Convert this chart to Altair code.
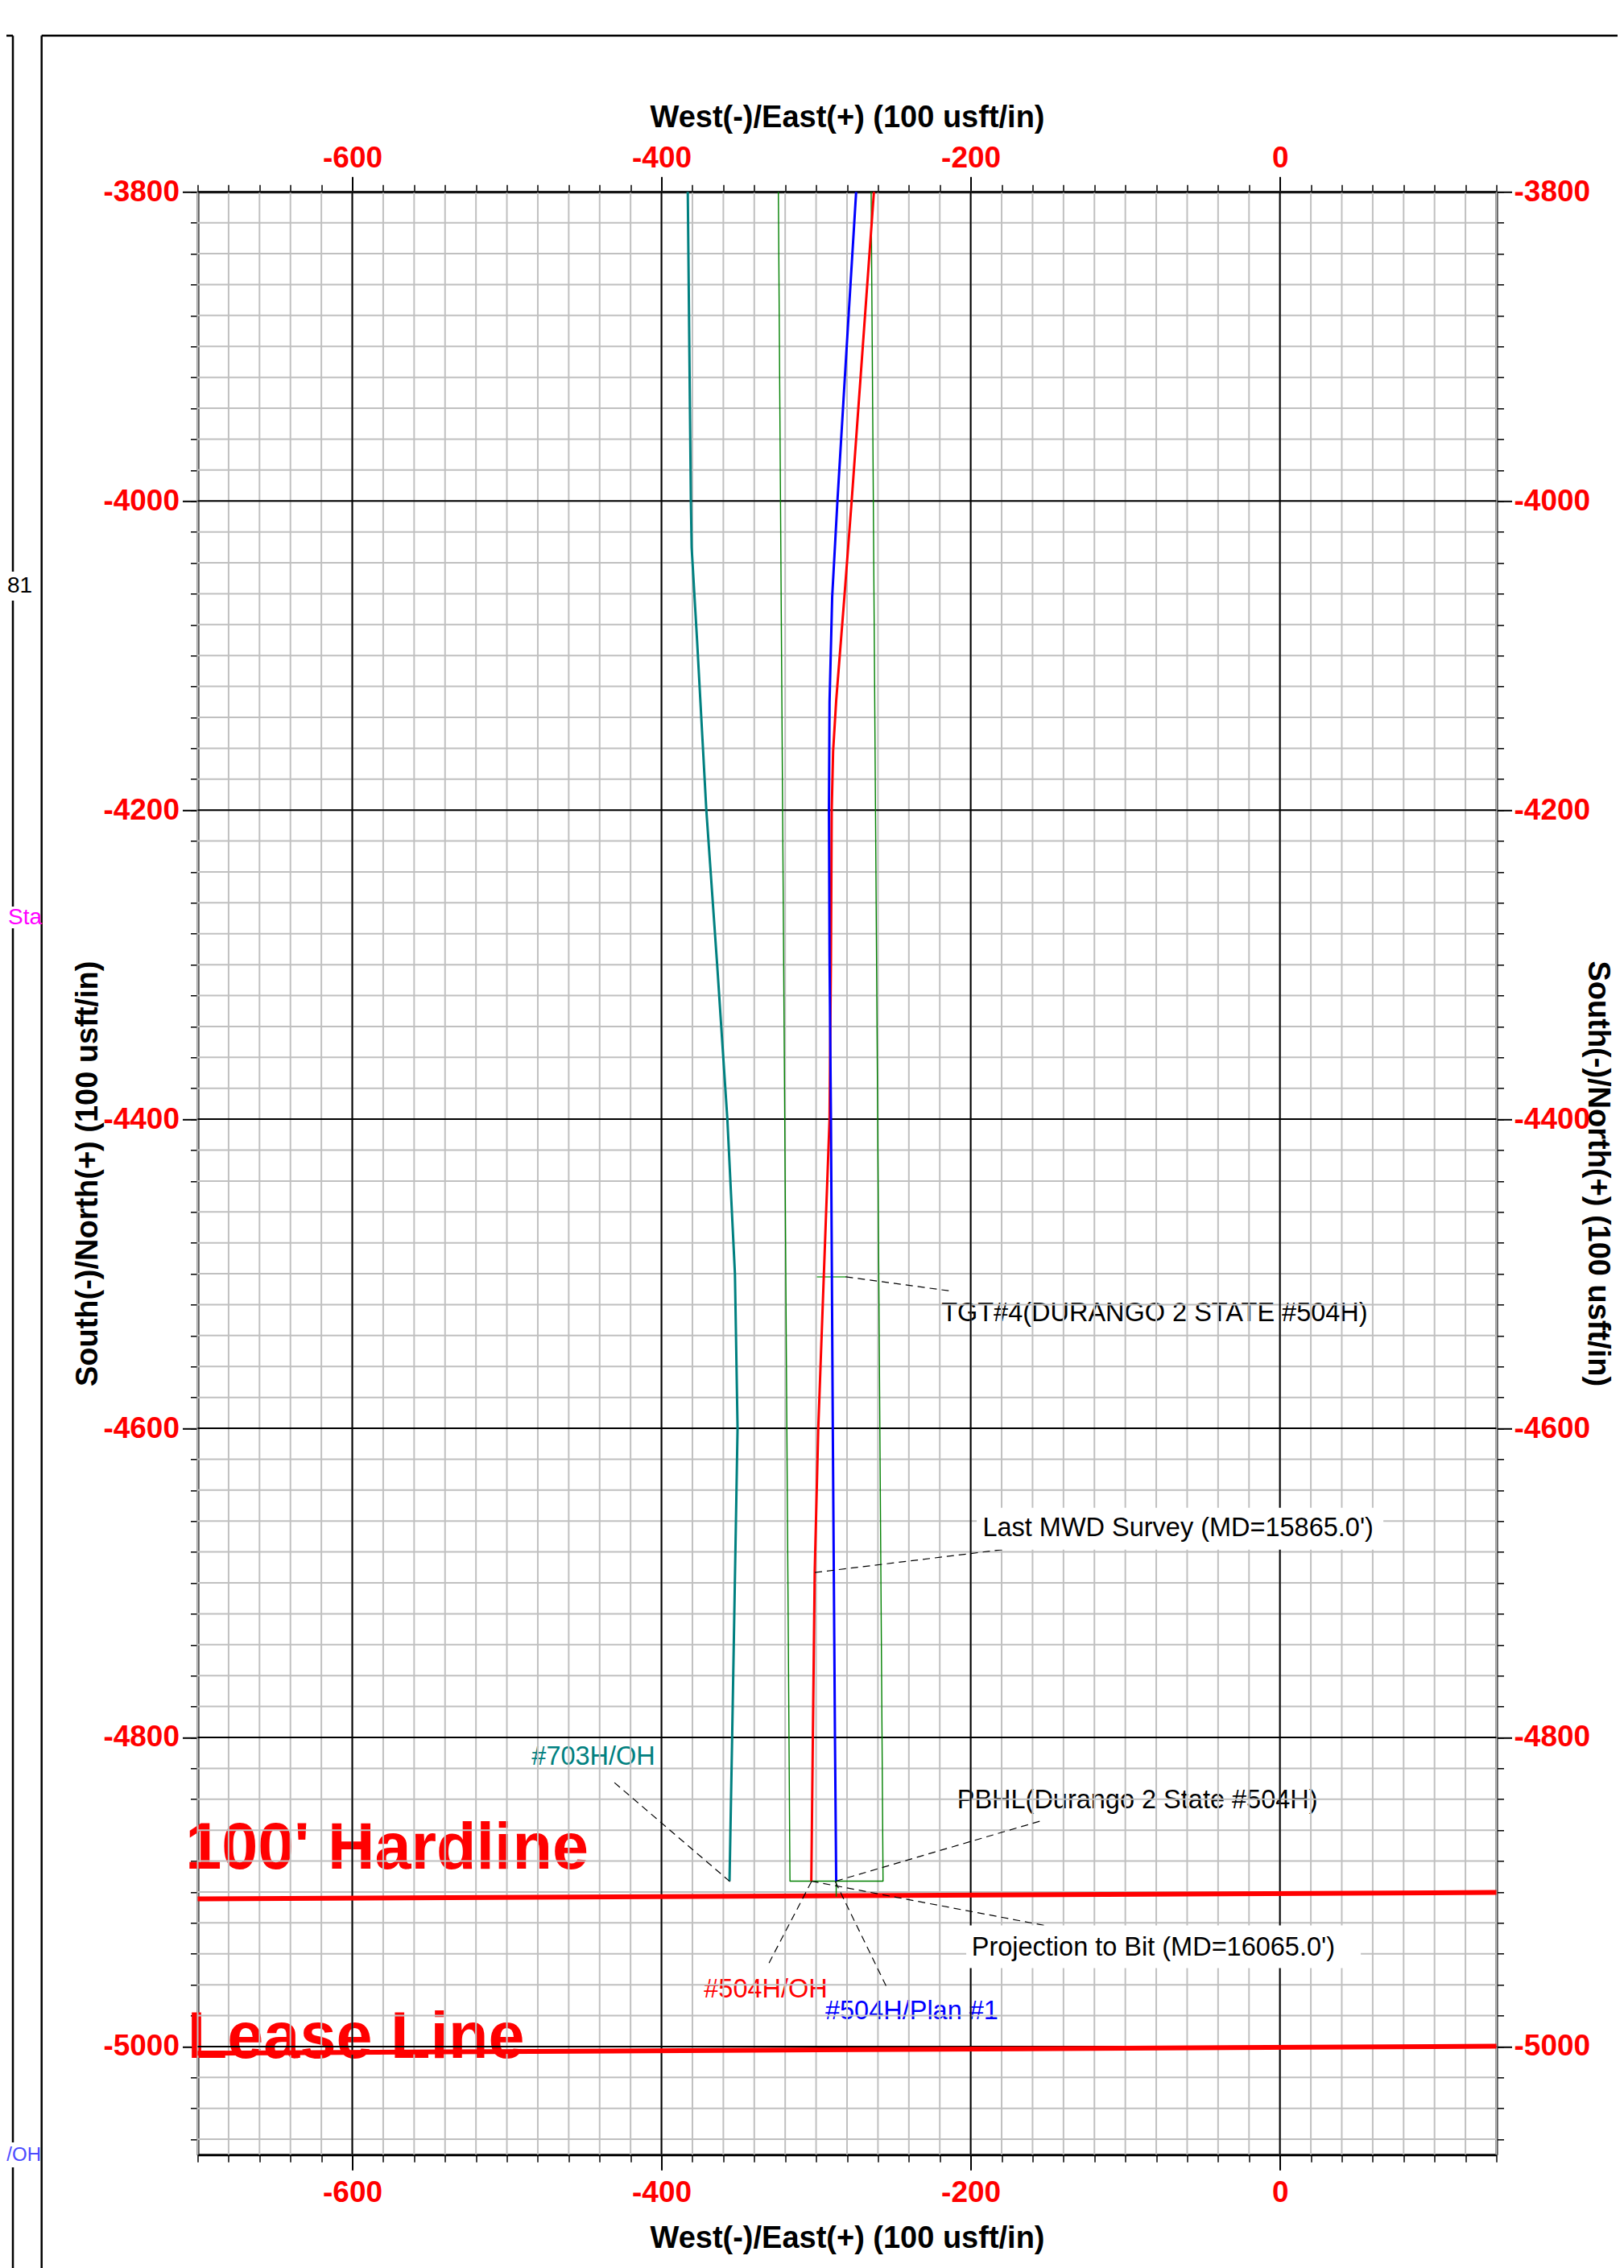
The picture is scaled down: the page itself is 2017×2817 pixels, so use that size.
import altair as alt
import pandas as pd

FONT = "Liberation Sans"
W, H = 1613, 2438

# ---------------- axes ----------------
X_DOMAIN = [-700, 140]
Y_DOMAIN = [-5070, -3800]
X_MAJOR = [-600, -400, -200, 0]
Y_MAJOR = [-5000, -4800, -4600, -4400, -4200, -4000, -3800]
X_MINOR = list(range(-700, 141, 20))
Y_MINOR = list(range(-5060, -3799, 20))
X_TITLE = "West(-)/East(+) (100 usft/in)"
Y_TITLE = "South(-)/North(+) (100 usft/in)"

# ---------------- well paths ----------------
TEAL_X = [-383.0, -381.0, -380.5, -377.0, -371.0, -364.0, -357.4, -352.5, -350.8, -354.3, -356.0]
TEAL_Y = [-3800, -4000, -4030, -4090, -4200, -4300, -4400, -4500, -4600, -4800, -4893]

BLUE_X = [-274.1, -280.2, -286.2, -289.6, -291.3, -291.7, -291.3, -290.4, -289.2, -287.8, -287.0]
BLUE_Y = [-3800, -3900, -4000, -4062, -4130, -4200, -4295, -4400, -4600, -4800, -4893]

RED_X = [-262.6, -269.8, -277.0, -281.7, -287.0, -289.0, -289.9, -290.4, -291.3, -293.4, -298.6, -300.9, -302.1, -303.1]
RED_Y = [-3800, -3900, -4000, -4062, -4129, -4162, -4200, -4295, -4400, -4457, -4600, -4693, -4800, -4893]

CORRIDOR_X = [-324.4, -316.9, -256.7, -264.4]
CORRIDOR_Y = [-3800, -4893, -4893, -3800]
STUB_X = [-287.0, -287.0]
STUB_Y = [-4893, -4903]
TGT_X = [-299.5, -280.5]
TGT_Y = [-4502, -4502]

# ---------------- boundary lines ----------------
BOUND_X1 = [-700, -700]
BOUND_Y1 = [-4904.5, -5004.3]
BOUND_X2 = [140, 140]
BOUND_Y2 = [-4900.3, -4999.8]
BIG_TEXT = ["100' Hardline", "Lease Line"]
BIG_X = [-708.0, -706.6]
BIG_Y = [-4885.0, -5007.5]

# ---------------- annotations ----------------
LEAD_X1 = [-280.8, -300.8, -287.3, -303.1, -355.7, -303.0, -287.6]
LEAD_Y1 = [-4502.0, -4693.3, -4893.0, -4893.0, -4893.3, -4893.3, -4893.3]
LEAD_X2 = [-214.2, -176.8, -152.6, -150.8, -432.0, -330.9, -254.4]
LEAD_Y2 = [-4511.0, -4678.2, -4853.4, -4921.9, -4827.9, -4946.8, -4961.5]

BOX_X1 = [-196.1, -202.9]
BOX_X2 = [66.9, 52.3]
BOX_Y1 = [-4651.4, -4921.7]
BOX_Y2 = [-4678.5, -4949.3]

NOTE_TEXT = ["TGT#4(DURANGO 2 STATE #504H)", "PBHL(Durango 2 State #504H)"]
NOTE_X = [-219.0, -208.8]
NOTE_Y = [-4525.7, -4840.5]
BOXNOTE_TEXT = ["Last MWD Survey (MD=15865.0')", "Projection to Bit  (MD=16065.0')"]
BOXNOTE_X = [-192.3, -199.4]
BOXNOTE_Y = [-4664.4, -4935.8]

WELL_TEXT = ["#703H/OH", "#504H/OH", "#504H/Plan #1"]
WELL_X = [-444.0, -332.6, -238.1]
WELL_Y = [-4812.3, -4962.9, -4977.0]
WELL_COLOR = ["#008080", "#ff0000", "#0000ff"]

# page frame (pixels relative to the plot origin)
FRAME_SEGS = [
    (-193.8, -194, 1770, -194),
    (-193.8, -194, -193.8, 2580),
    (-240, -194, -229.5, -194),
    (-229.5, -194, -229.5, 471.7),
    (-229.5, 507.7, -229.5, 887.7),
    (-229.5, 914.7, -229.5, 2422.7),
    (-229.5, 2453.7, -229.5, 2580),
]
SIDE_TEXT = ["81", "Sta", "/OH"]
SIDE_PX = [-221.0, -193.5, -194.5]
SIDE_PY = [489.7, 901.4, 2438.4]
SIDE_COLOR = ["#000000", "#ff00ff", "#4b4bff"]
SIDE_ALIGN = ["center", "right", "right"]
SIDE_SIZE = [28, 28, 24]

xs = alt.Scale(domain=X_DOMAIN, nice=False, zero=False)
ys = alt.Scale(domain=Y_DOMAIN, nice=False, zero=False)

LAB = dict(labelFont=FONT, labelFontSize=37, labelFontWeight="bold", labelColor="#ff0000",
           labelExpr="toString(datum.value)", labelOverlap=False, labelFlush=False)
TTL = dict(titleFont=FONT, titleFontSize=38, titleFontWeight="bold", titleColor="#000000",
           titleBaseline="alphabetic", titleAlign="center")
MAJ = dict(ticks=True, tickSize=19, tickWidth=2, tickColor="#000000", domain=True,
           domainColor="#000000", domainWidth=3, grid=False)
MIN = dict(ticks=True, tickSize=9, tickWidth=1.5, tickColor="#000000", domain=False,
           labels=False, grid=False, title="")

AX_BOTTOM = alt.Axis(orient="bottom", values=X_MAJOR, labelPadding=39.5, labelBaseline="alphabetic",
                     title=X_TITLE, titleX=W / 2, titleY=115, **LAB, **TTL, **MAJ)
AX_TOP = alt.Axis(orient="top", values=X_MAJOR, labelPadding=12, labelBaseline="alphabetic",
                  title=X_TITLE, titleX=W / 2, titleY=-81, **LAB, **TTL, **MAJ)
AX_LEFT = alt.Axis(orient="left", values=Y_MAJOR, labelPadding=4, labelAlign="right", labelBaseline="middle",
                   title=Y_TITLE, titleAngle=270, titleX=-125, titleY=H / 2, **LAB, **TTL, **MAJ)
AX_RIGHT = alt.Axis(orient="right", values=Y_MAJOR, labelPadding=2.5, labelAlign="left", labelBaseline="middle",
                    title=Y_TITLE, titleAngle=90, titleX=114, titleY=H / 2, **LAB, **TTL, **MAJ)
AX_BOTTOM_MIN = alt.Axis(orient="bottom", values=X_MINOR, **MIN)
AX_TOP_MIN = alt.Axis(orient="top", values=X_MINOR, **MIN)
AX_LEFT_MIN = alt.Axis(orient="left", values=Y_MINOR, **MIN)
AX_RIGHT_MIN = alt.Axis(orient="right", values=Y_MINOR, **MIN)

dummy = pd.DataFrame({"k": [0]})


def path_layer(xv, yv, color, width, xaxis=None, yaxis=None):
    df = pd.DataFrame({"x": xv, "y": yv, "i": list(range(len(xv)))})
    return alt.Chart(df).mark_line(color=color, strokeWidth=width, strokeJoin="round").encode(
        x=alt.X("x:Q", scale=xs, axis=xaxis),
        y=alt.Y("y:Q", scale=ys, axis=yaxis),
        order="i:Q",
    )


layers = []

# big red texts (drawn under the grid, as in the reference)
big_df = pd.DataFrame({"x": BIG_X, "y": BIG_Y, "t": BIG_TEXT})
layers.append(alt.Chart(big_df).mark_text(align="left", baseline="alphabetic", font=FONT, fontSize=81,
                                          fontWeight="bold", color="#ff0000").encode(
    x=alt.X("x:Q", scale=xs, axis=None), y=alt.Y("y:Q", scale=ys, axis=None), text="t:N"))

note_df = pd.DataFrame({"x": NOTE_X, "y": NOTE_Y, "t": NOTE_TEXT})
layers.append(alt.Chart(note_df).mark_text(align="left", baseline="middle", font=FONT, fontSize=32.5,
                                           color="#000000").encode(
    x=alt.X("x:Q", scale=xs, axis=None), y=alt.Y("y:Q", scale=ys, axis=None), text="t:N"))

well_df = pd.DataFrame({"x": WELL_X, "y": WELL_Y, "t": WELL_TEXT, "c": WELL_COLOR})
layers.append(alt.Chart(well_df).mark_text(align="center", baseline="middle", font=FONT, fontSize=32.5).encode(
    x=alt.X("x:Q", scale=xs, axis=None), y=alt.Y("y:Q", scale=ys, axis=None), text="t:N",
    color=alt.Color("c:N", scale=None)))

# grid
layers.append(alt.Chart(pd.DataFrame({"x": X_MINOR})).mark_rule(color="#c0c0c0", strokeWidth=2).encode(
    x=alt.X("x:Q", scale=xs, axis=AX_BOTTOM_MIN)))
layers.append(alt.Chart(pd.DataFrame({"y": Y_MINOR})).mark_rule(color="#c0c0c0", strokeWidth=2).encode(
    y=alt.Y("y:Q", scale=ys, axis=AX_LEFT_MIN)))
layers.append(alt.Chart(pd.DataFrame({"x": X_MAJOR})).mark_rule(color="#000000", strokeWidth=2).encode(
    x=alt.X("x:Q", scale=xs, axis=AX_BOTTOM)))
layers.append(alt.Chart(pd.DataFrame({"y": Y_MAJOR})).mark_rule(color="#000000", strokeWidth=2).encode(
    y=alt.Y("y:Q", scale=ys, axis=AX_LEFT)))

# hardline and lease line
bound_df = pd.DataFrame({"x": BOUND_X1, "y": BOUND_Y1, "x2": BOUND_X2, "y2": BOUND_Y2})
layers.append(alt.Chart(bound_df).mark_rule(color="#ff0000", strokeWidth=6).encode(
    x=alt.X("x:Q", scale=xs, axis=None), y=alt.Y("y:Q", scale=ys, axis=None), x2="x2:Q", y2="y2:Q"))

# corridor, target marker
layers.append(path_layer(CORRIDOR_X, CORRIDOR_Y, "#008000", 1.4))
layers.append(path_layer(STUB_X, STUB_Y, "#008000", 1.4))
layers.append(path_layer(TGT_X, TGT_Y, "#66bb66", 2))

# wells
layers.append(path_layer(TEAL_X, TEAL_Y, "#008080", 3, xaxis=AX_TOP, yaxis=AX_RIGHT))
layers.append(path_layer(RED_X, RED_Y, "#ff0000", 3))
layers.append(path_layer(BLUE_X, BLUE_Y, "#0000ff", 3, xaxis=AX_TOP_MIN, yaxis=AX_RIGHT_MIN))

# leader lines
lead_df = pd.DataFrame({"x": LEAD_X1, "y": LEAD_Y1, "x2": LEAD_X2, "y2": LEAD_Y2})
layers.append(alt.Chart(lead_df).mark_rule(color="#000000", strokeWidth=1.2, strokeDash=[9, 6]).encode(
    x=alt.X("x:Q", scale=xs, axis=None), y=alt.Y("y:Q", scale=ys, axis=None), x2="x2:Q", y2="y2:Q"))

# boxed notes
box_df = pd.DataFrame({"x": BOX_X1, "x2": BOX_X2, "y": BOX_Y1, "y2": BOX_Y2})
layers.append(alt.Chart(box_df).mark_rect(color="#ffffff").encode(
    x=alt.X("x:Q", scale=xs, axis=None), x2="x2:Q", y=alt.Y("y:Q", scale=ys, axis=None), y2="y2:Q"))
boxnote_df = pd.DataFrame({"x": BOXNOTE_X, "y": BOXNOTE_Y, "t": BOXNOTE_TEXT})
layers.append(alt.Chart(boxnote_df).mark_text(align="left", baseline="middle", font=FONT, fontSize=32.5,
                                              color="#000000").encode(
    x=alt.X("x:Q", scale=xs, axis=None), y=alt.Y("y:Q", scale=ys, axis=None), text="t:N"))

# page frame and neighbouring panel fragments
for (x1, y1, x2, y2) in FRAME_SEGS:
    layers.append(alt.Chart(dummy).mark_rule(color="#000000", strokeWidth=2.5).encode(
        x=alt.value(x1), y=alt.value(y1), x2=alt.value(x2), y2=alt.value(y2)))
for t, px, py, c, a, s in zip(SIDE_TEXT, SIDE_PX, SIDE_PY, SIDE_COLOR, SIDE_ALIGN, SIDE_SIZE):
    layers.append(alt.Chart(dummy).mark_text(align=a, baseline="middle", font=FONT, fontSize=s, color=c).encode(
        x=alt.value(px), y=alt.value(py), text=alt.value(t)))

chart = alt.layer(*layers).resolve_axis(x="independent", y="independent").properties(
    width=W, height=H,
    padding={"left": 237.5, "top": 230.3, "right": 150.5, "bottom": 141},
    autosize=alt.AutoSizeParams(type="none"),
    background="#ffffff",
).configure_view(strokeWidth=0)

chart.save("out.html", embed_options={"renderer": "svg", "actions": False})
